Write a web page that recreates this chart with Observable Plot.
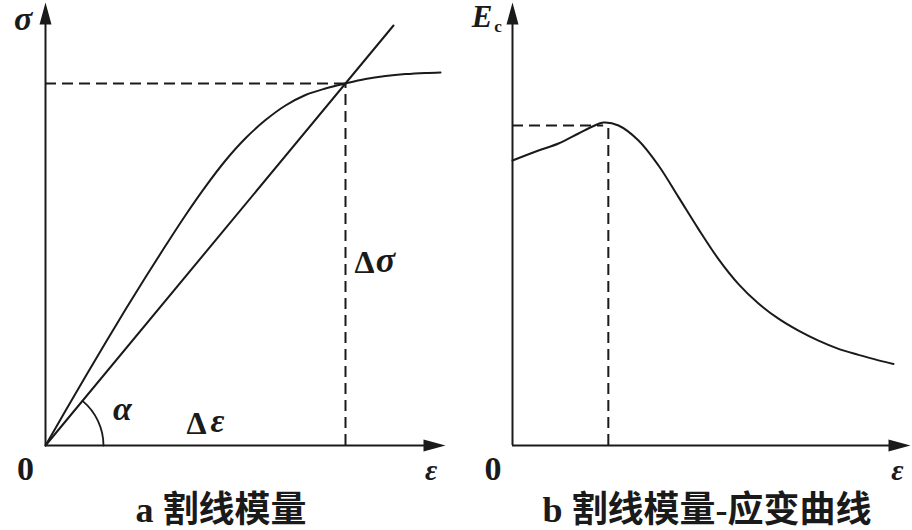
<!DOCTYPE html>
<html>
<head>
<meta charset="utf-8">
<script src="https://cdn.jsdelivr.net/npm/d3@7"></script>
<script src="https://cdn.jsdelivr.net/npm/@observablehq/plot@0.6"></script>
<style>
  body { margin: 0; background: #fff; }
  #wrap { display: flex; width: 912px; height: 530px; background: #fff; }
</style>
</head>
<body>
<div id="wrap"></div>
<script>
// ---------- Panel a: stress-strain curve and secant ----------
const strainA = [0, 0.5, 1, 1.5, 2, 2.5, 3, 3.5, 4, 4.5, 5, 5.5, 6, 6.5, 7, 7.5, 8, 8.5, 9, 9.5, 9.875];
const stressA = [0, 0.8675, 1.725, 2.57, 3.3975, 4.205, 4.9925, 5.7575, 6.4725, 7.125, 7.68, 8.135, 8.5, 8.7625, 8.925, 9.05, 9.16, 9.235, 9.285, 9.315, 9.3275];
const secantStrain = [0, 8.7];
const secantStress = [0, 10.5];
const secantPointA = {strain: 7.5, stress: 9.05};
const angleArcA = {x1: 0.925, y1: 1.116, x2: 1.45, y2: 0};

// ---------- Panel b: secant modulus vs strain ----------
const strainB = [0, 0.657, 1.162, 1.667, 2.02, 2.298, 2.677, 3.182, 3.687, 4.192, 4.697, 5.202, 5.707, 6.212, 6.717, 7.222, 7.727, 8.232, 8.737, 9.242, 9.621];
const modulusB = [7.125, 7.375, 7.55, 7.8, 7.975, 8.075, 8.0, 7.625, 7.0, 6.21, 5.41, 4.66, 4.035, 3.55, 3.17, 2.87, 2.62, 2.415, 2.265, 2.1275, 2.0375];
const peakPointB = {strain: 2.42, modulus: 8.0, dashEnd: 2.3};

// ---------- text labels ----------
const captionA = "a 割线模量";
const captionB = "b 割线模量-应变曲线";

const serif = "Liberation Serif, Times New Roman, DejaVu Serif, serif";
const cjk = "Liberation Serif, Noto Sans CJK SC, sans-serif";
const ink = "#1a1a1a";

const arrowHead = {
  draw(ctx) {
    ctx.moveTo(0, 0);
    ctx.lineTo(-6, 22);
    ctx.lineTo(6, 22);
    ctx.closePath();
  }
};

function axesMarks(xEnd, yEnd, xTip, yTip) {
  return [
    Plot.ruleY([0], {x1: 0, x2: xEnd, stroke: ink, strokeWidth: 2}),
    Plot.ruleX([0], {y1: 0, y2: yEnd, stroke: ink, strokeWidth: 2}),
    Plot.dot([{x: 0, y: yTip}], {x: "x", y: "y", symbol: arrowHead, r: 1, fill: ink, stroke: "none"}),
    Plot.dot([{x: xTip, y: 0}], {x: "x", y: "y", symbol: arrowHead, r: 1, fill: ink, stroke: "none", rotate: 90})
  ];
}

function lblAt(text, x, y, size, opts = {}) {
  return Plot.text([{t: text, x, y}], {
    x: "x", y: "y", text: "t",
    fontSize: size, fontFamily: serif, fontWeight: "bold",
    fill: ink, lineAnchor: "middle", ...opts
  });
}

const curveA = strainA.map((s, i) => ({strain: s, stress: stressA[i]}));
const secant = secantStrain.map((s, i) => ({strain: s, stress: secantStress[i]}));

const plotA = Plot.plot({
  width: 456, height: 530,
  marginLeft: 45, marginRight: 11, marginTop: 5, marginBottom: 85,
  x: {domain: [0, 10], axis: null},
  y: {domain: [0, 11], axis: null},
  style: {background: "white", overflow: "visible"},
  marks: [
    Plot.ruleY([secantPointA], {y: "stress", x1: 0, x2: "strain", stroke: ink, strokeWidth: 2, strokeDasharray: "11,6"}),
    Plot.ruleX([secantPointA], {x: "strain", y1: 0, y2: "stress", stroke: ink, strokeWidth: 2, strokeDasharray: "11,6"}),
    Plot.line(curveA, {x: "strain", y: "stress", curve: "catmull-rom", stroke: ink, strokeWidth: 2}),
    Plot.line(secant, {x: "strain", y: "stress", stroke: ink, strokeWidth: 2}),
    Plot.arrow([angleArcA], {x1: "x1", y1: "y1", x2: "x2", y2: "y2", bend: 25, headLength: 0, stroke: ink, strokeWidth: 1.8}),
    ...axesMarks(9.7, 10.7, 10, 11.075),
    lblAt("σ", -0.56, 10.65, 34, {fontStyle: "italic"}),
    lblAt("α", 1.925, 0.9, 34, {fontStyle: "italic"}),
    lblAt("Δ", 3.775, 0.55, 32),
    lblAt("ε", 4.3, 0.62, 34, {fontStyle: "italic"}),
    lblAt("Δ", 7.975, 4.5625, 32),
    lblAt("σ", 8.5, 4.63, 36, {fontStyle: "italic"}),
    lblAt("0", -0.5, -0.5875, 34),
    lblAt("ε", 9.64, -0.62, 30, {fontStyle: "italic"}),
    lblAt(captionA, 2.25, -1.625, 36, {fontFamily: cjk, textAnchor: "start"})
  ]
});

const curveB = strainB.map((s, i) => ({strain: s, modulus: modulusB[i]}));

const plotB = Plot.plot({
  width: 456, height: 530,
  marginLeft: 56, marginRight: 4, marginTop: 5, marginBottom: 85,
  x: {domain: [0, 10], axis: null},
  y: {domain: [0, 11], axis: null},
  style: {background: "white", overflow: "visible"},
  marks: [
    Plot.ruleY([peakPointB], {y: "modulus", x1: 0, x2: "dashEnd", stroke: ink, strokeWidth: 2, strokeDasharray: "11,6"}),
    Plot.ruleX([peakPointB], {x: "strain", y1: 0, y2: "modulus", stroke: ink, strokeWidth: 2, strokeDasharray: "11,6"}),
    Plot.line(curveB, {x: "strain", y: "modulus", curve: "catmull-rom", stroke: ink, strokeWidth: 2}),
    ...axesMarks(9.8, 10.7, 10.05, 11.075),
    lblAt("E", -0.77, 10.72, 31, {fontStyle: "italic"}),
    lblAt("c", -0.366, 10.475, 17),
    lblAt("0", -0.49, -0.6, 34),
    lblAt("ε", 9.72, -0.62, 30, {fontStyle: "italic"}),
    lblAt(captionB, 0.758, -1.625, 36, {fontFamily: cjk, textAnchor: "start"})
  ]
});

document.getElementById("wrap").append(plotA, plotB);
</script>
</body>
</html>
